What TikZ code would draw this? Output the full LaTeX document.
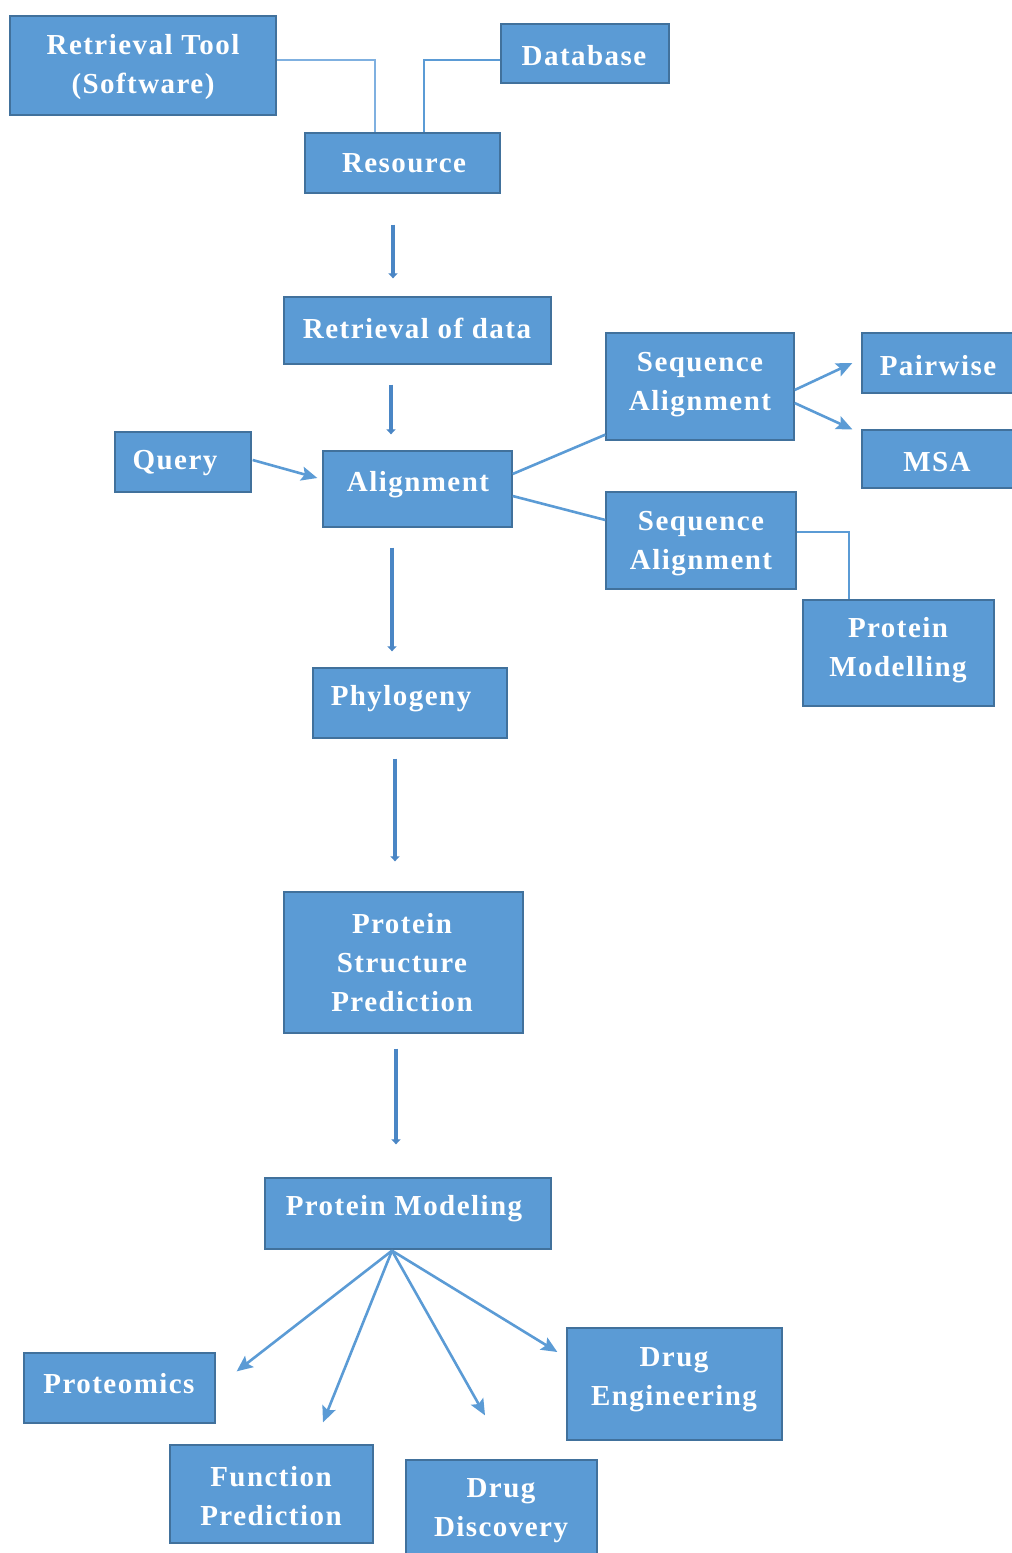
\documentclass[tikz,border=0pt]{standalone}
\usepackage{fontspec}
\setmainfont{Liberation Serif}[LetterSpace=5]
\usetikzlibrary{arrows.meta,calc}
\definecolor{bfill}{HTML}{5B9BD5}
\definecolor{bdr}{HTML}{41719C}
\definecolor{lline}{HTML}{7FB0E0}
\definecolor{varr}{HTML}{4A86C5}
\begin{document}
\begin{tikzpicture}[x=1pt,y=-1pt,
  box/.style={draw=bdr, fill=bfill, line width=1.3pt, inner sep=0pt},
  txt/.style={text=white, font=\bfseries\fontsize{29}{39}\selectfont, align=center, inner sep=0pt, yshift=-3.5pt},
  conn/.style={draw=bfill, line width=2.6pt},
  arr/.style={draw=bfill, line width=2.6pt, -{Stealth[length=16pt,width=14pt,inset=3pt]}},
  varrow/.style={draw=varr, line width=4pt, -{Triangle[length=5pt,width=9pt]}}]
\useasboundingbox (0,0) rectangle (1012,1553);
% boxes
\node[box, minimum width=266pt, minimum height=99pt] (rt) at (143,65.5) {};
\node[box, minimum width=168pt, minimum height=59pt] (db) at (585,53.5) {};
\node[box, minimum width=195pt, minimum height=60pt] (rs) at (402.5,163) {};
\node[box, minimum width=267pt, minimum height=67pt] (rd) at (417.5,330.5) {};
\node[box, minimum width=136pt, minimum height=60pt] (qu) at (183,462) {};
\node[box, minimum width=189pt, minimum height=76pt] (al) at (417.5,489) {};
\node[box, minimum width=188pt, minimum height=107pt] (sa1) at (700,386.5) {};
\node[box, minimum width=153pt, minimum height=60pt] (pw) at (938.5,363) {};
\node[box, minimum width=153pt, minimum height=58pt] (msa) at (938.5,459) {};
\node[box, minimum width=190pt, minimum height=97pt] (sa2) at (701,540.5) {};
\node[box, minimum width=191pt, minimum height=106pt] (pmod) at (898.5,653) {};
\node[box, minimum width=194pt, minimum height=70pt] (ph) at (410,703) {};
\node[box, minimum width=239pt, minimum height=141pt] (psp) at (403.5,962.5) {};
\node[box, minimum width=286pt, minimum height=71pt] (pm) at (408,1213.5) {};
\node[box, minimum width=191pt, minimum height=70pt] (pr) at (119.5,1388) {};
\node[box, minimum width=203pt, minimum height=98pt] (fp) at (271.5,1494) {};
\node[box, minimum width=191pt, minimum height=96pt] (dd) at (501.5,1508) {};
\node[box, minimum width=215pt, minimum height=112pt] (de) at (674.5,1384) {};
% texts
\node[txt] (rt-t) at (143,63.5) {Retrieval Tool\\(Software)};
\node[txt] (db-t) at (584,52) {Database};
\node[txt] (rs-t) at (404,160) {Resource};
\node[txt] (rd-t) at (417,325) {Retrieval of data};
\node[txt] (qu-t) at (175,460) {Query};
\node[txt] (al-t) at (418,481) {Alignment};
\node[txt] (sa1-t) at (700,381.5) {Sequence\\Alignment};
\node[txt] (pw-t) at (938,362) {Pairwise};
\node[txt] (msa-t) at (937,459) {MSA};
\node[txt] (sa2-t) at (701,540.5) {Sequence\\Alignment};
\node[txt] (pmod-t) at (898,646.5) {Protein\\Modelling};
\node[txt] (ph-t) at (401,695) {Phylogeny};
\node[txt] (psp-t) at (402,959) {Protein\\Structure\\Prediction};
\node[txt] (pm-t) at (404,1205) {Protein Modeling};
\node[txt] (pr-t) at (119,1380) {Proteomics};
\node[txt] (fp-t) at (271,1492.5) {Function\\Prediction};
\node[txt] (dd-t) at (501,1507.5) {Drug\\Discovery};
\node[txt] (de-t) at (674,1376.5) {Drug\\Engineering};
% top connectors
\draw[draw=lline, line width=1.5pt] ($(rt.east)+(0,-5.5)$) -| ($(rs.north)+(-27.5,0)$);
\draw[draw=bfill, line width=2.2pt] ($(db.west)+(0,6.5)$) -| ($(rs.north)+(21.5,0)$);
% vertical arrows
\draw[varrow] ($(rs.south)+(-9.5,31)$) -- ($(rd.north)+(-24.5,-18)$);
\draw[varrow] ($(rd.south)+(-26.5,20)$) -- ($(al.north)+(-26.5,-16)$);
\draw[varrow] ($(al.south)+(-25.5,20)$) -- ($(ph.north)+(-18,-16)$);
\draw[varrow] ($(ph.south)+(-15,20)$) -- ($(psp.north)+(-8.5,-30)$);
\draw[varrow] ($(psp.south)+(-7.5,15)$) -- ($(pm.north)+(-12,-33)$);
% query
\draw[arr] ($(qu.east)+(1,-2)$) -- ($(al.west)+(-5,-11)$);
% alignment branches
\draw[conn] ($(al.east)+(0,-15)$) -- ($(sa1.south west)+(0,-6)$);
\draw[conn] ($(al.east)+(0,7)$) -- ($(sa2.west)+(0,-20.5)$);
\draw[arr] ($(sa1.east)+(0,3.5)$) -- ($(pw.west)+(-9,0)$);
\draw[arr] ($(sa1.east)+(0,16.5)$) -- ($(msa.north west)+(-9,0)$);
\draw[conn] ($(sa2.east)+(0,-8.5)$) -| ($(pmod.north)+(-49.5,0)$);
% fan
\coordinate (fan) at ($(pm.south)+(-16,1)$);
\draw[arr] (fan) -- ($(pr.north east)+(21,19)$);
\draw[arr] (fan) -- ($(fp.north)+(51.5,-22)$);
\draw[arr] (fan) -- ($(dd.north)+(-16.5,-44)$);
\draw[arr] (fan) -- ($(de.west)+(-9,-32)$);
\end{tikzpicture}
\end{document}
